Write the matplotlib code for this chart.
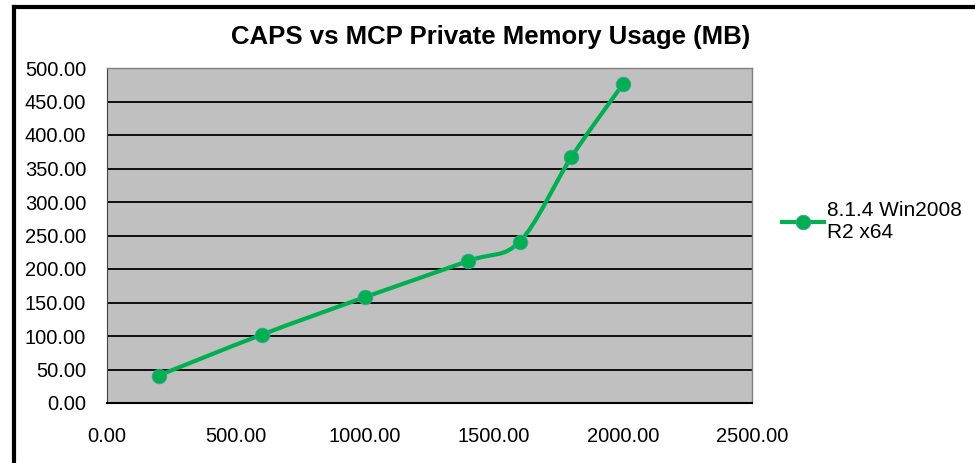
import numpy as np
import matplotlib
matplotlib.use("Agg")
import matplotlib.pyplot as plt
from matplotlib.path import Path
from matplotlib.patches import PathPatch
from matplotlib.lines import Line2D

plt.rcParams['font.family'] = ['Liberation Sans', 'DejaVu Sans']

# Data
users = [200, 600, 1000, 1400, 1600, 1800, 2000]
memory_mb = [41, 102, 158, 212, 241, 367, 476]
series_name = "8.1.4 Win2008\nR2 x64"
title = "CAPS vs MCP Private Memory Usage (MB)"

green = "#00B050"

fig = plt.figure(figsize=(9.75, 4.63), dpi=100)
ax = fig.add_axes([107 / 975, 1 - 403 / 463, 645 / 975, 335 / 463])
ax.set_facecolor("#C0C0C0")

# Excel-style smoothed line: cubic Bezier segments through the points
x = np.array(users, dtype=float)
y = np.array(memory_mb, dtype=float)
n = len(x)
verts = [(x[0], y[0])]
codes = [Path.MOVETO]
for i in range(n - 1):
    p0 = np.array([x[max(i - 1, 0)], y[max(i - 1, 0)]])
    p1 = np.array([x[i], y[i]])
    p2 = np.array([x[i + 1], y[i + 1]])
    p3 = np.array([x[min(i + 2, n - 1)], y[min(i + 2, n - 1)]])
    c1 = p1 + (p2 - p0) / 6
    c2 = p2 - (p3 - p1) / 6
    verts += [tuple(c1), tuple(c2), tuple(p2)]
    codes += [Path.CURVE4] * 3
ax.add_patch(PathPatch(Path(verts, codes), facecolor="none", edgecolor=green,
                       lw=3, zorder=3))
ax.plot(users, memory_mb, linestyle="none", marker="o", markersize=10.5,
        color=green, markeredgecolor="#3fa0a0", markeredgewidth=0.6, zorder=4)

ax.set_xlim(0, 2500)
ax.set_ylim(0, 500)
ax.set_xticks(np.arange(0, 2501, 500))
ax.set_yticks(np.arange(0, 501, 50))
ax.xaxis.set_major_formatter(lambda v, p: f"{v:.2f}")
ax.yaxis.set_major_formatter(lambda v, p: f"{v:.2f}")
ax.tick_params(length=0, labelsize=14.5, colors="black")
ax.tick_params(axis="x", pad=17)
ax.tick_params(axis="y", pad=15)
ax.grid(axis="y", color="black", lw=1.3)
ax.set_axisbelow(True)
for side in ["top", "right"]:
    ax.spines[side].set_color("#808080")
    ax.spines[side].set_linewidth(1)
ax.spines["left"].set_color("#404040")
ax.spines["bottom"].set_color("black")
ax.spines["bottom"].set_linewidth(1.5)

fig.text(491 / 975, 1 - 37 / 463, title,
         ha="center", va="center", fontsize=18.5, fontweight="bold")

handle = Line2D([], [], color=green, lw=3, marker="o", markersize=10.5,
                markeredgecolor="#3fa0a0", markeredgewidth=0.6)
fig.legend([handle], [series_name], loc="center left",
           bbox_to_anchor=(772 / 975, 1 - 222 / 463), frameon=False,
           fontsize=15, handlelength=2.0, handletextpad=0.15,
           borderpad=0, labelspacing=0)

# outer chart border (left and top edges only)
fig.add_artist(Line2D([14 / 975, 14 / 975], [0, 1 - 6.5 / 463],
                      transform=fig.transFigure, color="black", lw=3,
                      solid_capstyle="projecting"))
fig.add_artist(Line2D([14 / 975, 1], [1 - 6.5 / 463, 1 - 6.5 / 463],
                      transform=fig.transFigure, color="black", lw=3))

fig.savefig("out.png", dpi=100, facecolor="white")
